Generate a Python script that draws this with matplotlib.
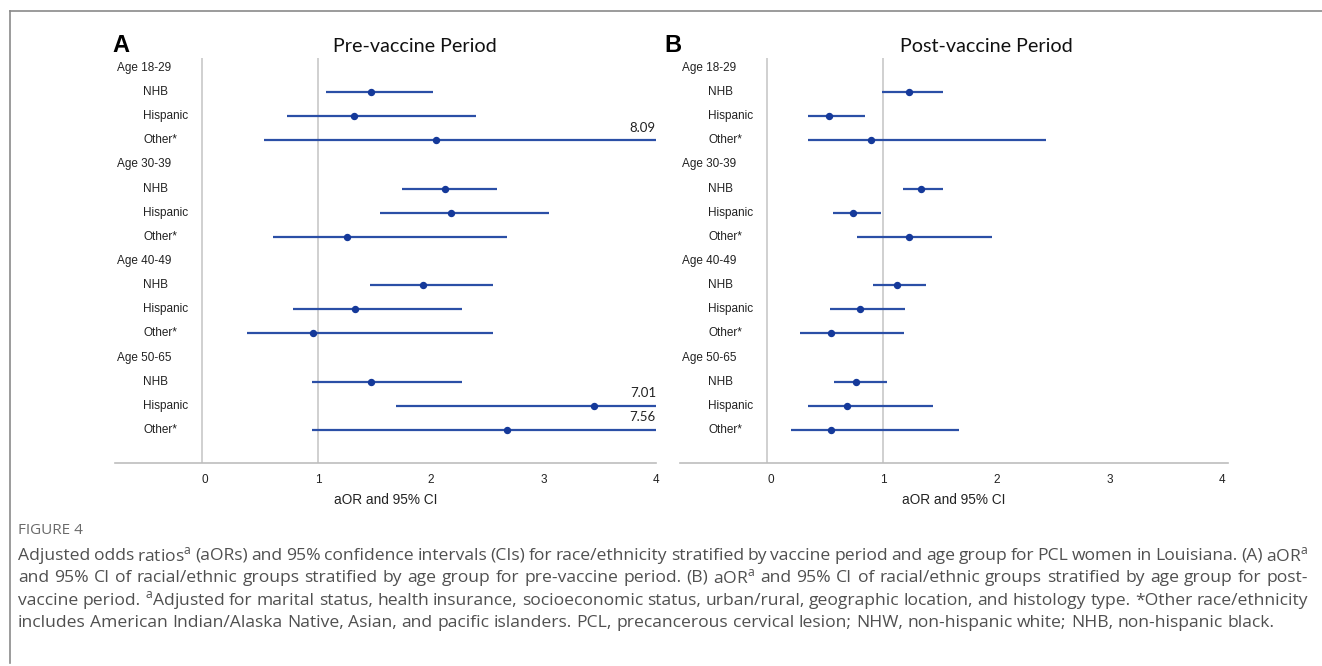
import numpy as np
import matplotlib.pyplot as plt
from matplotlib.lines import Line2D

# Data
groups = ["Age 18-29", "Age 30-39", "Age 40-49", "Age 50-65"]
races = ["NHB", "Hispanic", "Other*"]

pre_aor = [1.47, 1.32, 2.05, 2.13, 2.18, 1.26, 1.93, 1.33, 0.96, 1.47, 3.45, 2.68]
pre_lo = [1.07, 0.73, 0.52, 1.75, 1.55, 0.60, 1.46, 0.78, 0.37, 0.95, 1.69, 0.95]
pre_hi = [2.02, 2.40, 8.09, 2.59, 3.05, 2.68, 2.55, 2.28, 2.55, 2.28, 7.01, 7.56]

post_aor = [1.23, 0.52, 0.89, 1.33, 0.73, 1.23, 1.12, 0.79, 0.54, 0.76, 0.68, 0.54]
post_lo = [0.99, 0.33, 0.33, 1.17, 0.55, 0.77, 0.91, 0.53, 0.26, 0.56, 0.33, 0.18]
post_hi = [1.53, 0.84, 2.44, 1.53, 0.98, 1.96, 1.38, 1.19, 1.18, 1.03, 1.44, 1.67]

xticks = [0, 1, 2, 3, 4]

caption_head = "FIGURE 4"
caption_lines = [
    "Adjusted odds ratios$^\\mathregular{a}$ (aORs) and 95% confidence intervals (CIs) for race/ethnicity stratified by vaccine period and age group for PCL women in Louisiana. (A) aOR$^\\mathregular{a}$",
    "and 95% CI of racial/ethnic groups stratified by age group for pre-vaccine period. (B) aOR$^\\mathregular{a}$ and 95% CI of racial/ethnic groups stratified by age group for post-",
    "vaccine period. $^\\mathregular{a}$Adjusted for marital status, health insurance, socioeconomic status, urban/rural, geographic location, and histology type. *Other race/ethnicity",
    "includes American Indian/Alaska Native, Asian, and pacific islanders. PCL, precancerous cervical lesion; NHW, non-hispanic white; NHB, non-hispanic black.",
]

W, H = 1322, 666
LINE = "#2b4fa6"
DOT = "#15399a"
GRID = "#c4c4c4"
LABEL_FONT = ["Liberation Sans", "DejaVu Sans"]
CAL_FONT = ["Lato", "DejaVu Sans"]
CAP_FONT = ["Open Sans", "DejaVu Sans"]
CAP_SIZE = 12.6

fig = plt.figure(figsize=(W / 100, H / 100), dpi=100)


def px_axes(left, right, top, bottom):
    return fig.add_axes([left / W, 1 - bottom / H, (right - left) / W, (bottom - top) / H])


def forest(ax, aor, lo, hi, xmax):
    ax.set_xlim(-0.8, xmax)
    ax.set_ylim(16.37, -0.4)
    for s in ["top", "right", "left"]:
        ax.spines[s].set_visible(False)
    ax.spines["bottom"].set_color("#bdbdbd")
    ax.spines["bottom"].set_linewidth(1.2)
    ax.axvline(-0.03, color=GRID, lw=1.1, zorder=1)
    ax.axvline(1, color=GRID, lw=1.1, zorder=1)
    ax.set_xticks(xticks)
    ax.set_xticklabels([str(t) for t in xticks], fontsize=8.5, family=LABEL_FONT, color="#222222")
    ax.tick_params(axis="x", length=0, pad=8)
    ax.set_yticks([])
    ax.set_xlabel("aOR and 95% CI", fontsize=9.8, family=LABEL_FONT, labelpad=5, color="#222222")

    k = 0
    for gi, g in enumerate(groups):
        row = gi * 4
        ax.text(-0.78, row, g, fontsize=8.5, family=LABEL_FONT, va="center", ha="left", color="#222222")
        for ri, r in enumerate(races):
            y = row + ri + 1
            ax.text(-0.55, y, r, fontsize=8.5, family=LABEL_FONT, va="center", ha="left", color="#222222")
            ax.plot([lo[k], hi[k]], [y, y], color=LINE, lw=1.6, solid_capstyle="butt", zorder=2)
            ax.plot(aor[k], y, "o", color=DOT, ms=4.3, zorder=3)
            if hi[k] > xmax:
                ax.text(xmax, y - 0.28, f"{hi[k]:.2f}", fontsize=9.5, family=CAL_FONT,
                        ha="right", va="bottom", color="#222222")
            k += 1


axA = px_axes(115, 656, 58.3, 463)
forest(axA, pre_aor, pre_lo, pre_hi, 4.0)
axB = px_axes(680, 1228, 58.3, 463)
forest(axB, post_aor, post_lo, post_hi, 4.05)

# panel titles and letters
fig.text(415 / W, 1 - 47 / H, "Pre-vaccine Period", fontsize=14.2, family=CAL_FONT,
         ha="center", va="center", color="#111111")
fig.text(986 / W, 1 - 47 / H, "Post-vaccine Period", fontsize=14.2, family=CAL_FONT,
         ha="center", va="center", color="#111111")
fig.text(112 / W, 1 - 46 / H, "A", fontsize=17, fontweight="bold", family=LABEL_FONT,
         ha="left", va="center", color="black")
fig.text(664 / W, 1 - 46 / H, "B", fontsize=17, fontweight="bold", family=LABEL_FONT,
         ha="left", va="center", color="black")

# frame lines (top and left)
fig.add_artist(Line2D([9.5 / W, 1], [1 - 10.5 / H, 1 - 10.5 / H], color="#8a8a8a", lw=1.2))
fig.add_artist(Line2D([9.5 / W, 9.5 / W], [1 - 10.5 / H, 1 - 663 / H], color="#8a8a8a", lw=1.2))

# caption
fig.text(18 / W, 1 - 531 / H, caption_head, fontsize=11, family=CAP_FONT,
         ha="left", va="center", color="#6a6a6a")


def text_width(s, r):
    t = fig.text(0, 0, s, fontsize=CAP_SIZE, family=CAP_FONT)
    w = t.get_window_extent(r).width
    t.remove()
    return w


def justify(line, y, x0, x1, last=False):
    words = line.split(" ")
    texts = [fig.text(x0 / W, 1 - y / H, w, fontsize=CAP_SIZE, family=CAP_FONT,
                      ha="left", va="center", color="#505050") for w in words]
    r = fig.canvas.get_renderer()
    widths = [t.get_window_extent(r).width for t in texts]
    if last:
        gap = text_width("a a", r) - text_width("aa", r)
    else:
        gap = (x1 - x0 - sum(widths)) / (len(words) - 1)
    x = x0
    for t, w in zip(texts, widths):
        t.set_x(x / W)
        x += w + gap


cap_y = [556, 578, 601, 623]
for i, (line, y) in enumerate(zip(caption_lines, cap_y)):
    justify(line, y, 18, 1308, last=(i == len(caption_lines) - 1))

fig.savefig("out.png", dpi=100)
